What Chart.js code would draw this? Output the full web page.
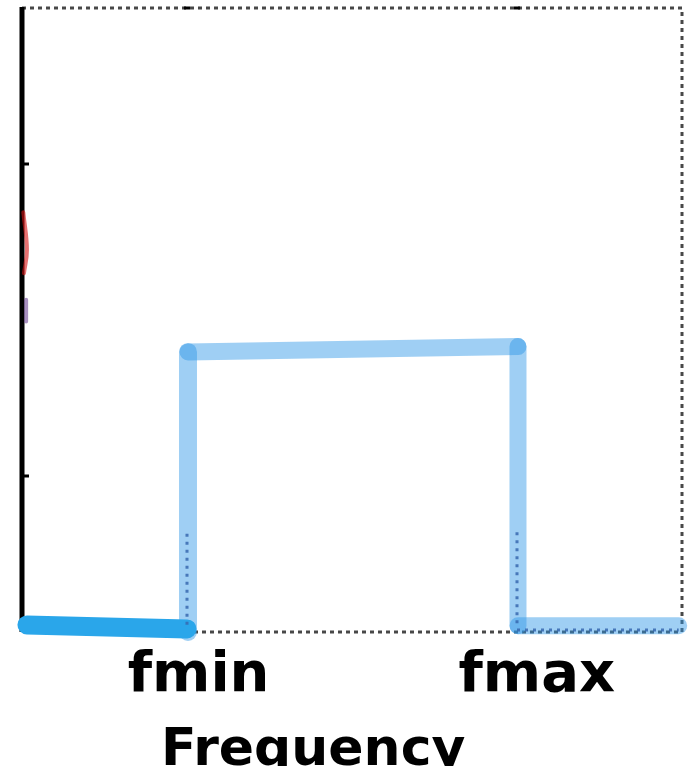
<!DOCTYPE html>
<html>
<head>
<meta charset="utf-8">
<script src="https://cdn.jsdelivr.net/npm/chart.js@4/dist/chart.umd.min.js"></script>
<style>
  body { margin: 0; background: #fff; }
  #wrap { width: 691px; height: 766px; }
</style>
</head>
<body>
<div id="wrap"><canvas id="bandChart"></canvas></div>
<script>
// Band-pass sketch: frequency axis 0..4, fmin = 1, fmax = 3
const xRange = [0, 4];
const yRange = [0, 4];
const tickPositions = [1.07, 3.12];
const tickLabels = ['fmin', 'fmax'];
const axisTickValues = [1, 3];
const axisTitle = 'Frequency';

// pass band, drawn as separate strokes
const lowStopX = [0.03, 1.0];
const lowStopY = [0.045, 0.02];
const riseX = [1.006, 1.006];
const riseY = [0.0, 1.795];
const passX = [1.006, 3.006];
const passY = [1.795, 1.83];
const fallX = [3.006, 3.006];
const fallY = [1.83, 0.04];
const highStopX = [3.006, 3.98];
const highStopY = [0.04, 0.04];

// dotted marks inside the band edges
const dotLeftX = [1.0, 1.0];
const dotLeftY = [0.63, 0.045];
const dotRightX = [3.0, 3.0];
const dotRightY = [0.64, 0.045];
const dotBottomX = [3.0, 3.98];
const dotBottomY = [0.013, 0.013];

// bits of another curve peeking at the left edge
const redX = [0.008, 0.03, 0.012];
const redY = [2.69, 2.45, 2.3];
const purpleX = [0.025, 0.025];
const purpleY = [2.13, 1.99];

function pts(xs, ys) {
    return xs.map((x, i) => ({ x: x, y: ys[i] }));
}

const lightBlue = 'rgba(45, 150, 230, 0.46)';

function seg(xs, ys, color, width, extra) {
    return Object.assign({
        data: pts(xs, ys),
        borderColor: color,
        borderWidth: width,
        borderCapStyle: 'round',
        borderJoinStyle: 'round',
        pointRadius: 0,
        tension: 0,
        fill: false,
        clip: false
    }, extra || {});
}

// frame: solid left axis, dotted top/right/bottom, small inward ticks
const framePlugin = {
    id: 'frame',
    beforeDatasetsDraw(chart) {
        const { ctx, chartArea: a, scales } = chart;
        ctx.save();
        ctx.strokeStyle = 'rgba(40,40,40,0.85)';
        ctx.lineWidth = 3;
        ctx.setLineDash([4, 4]);
        ctx.beginPath();
        ctx.moveTo(a.left, a.top);
        ctx.lineTo(a.right, a.top);
        ctx.lineTo(a.right, a.bottom);
        ctx.lineTo(a.left, a.bottom);
        ctx.stroke();
        ctx.setLineDash([]);
        ctx.strokeStyle = '#000';
        ctx.lineWidth = 5;
        ctx.beginPath();
        ctx.moveTo(a.left, a.top - 1);
        ctx.lineTo(a.left, a.bottom);
        ctx.stroke();
        ctx.lineWidth = 3;
        axisTickValues.forEach(v => {
            const y = scales.y.getPixelForValue(v);
            ctx.beginPath();
            ctx.moveTo(a.left, y);
            ctx.lineTo(a.left + 7, y);
            ctx.stroke();
            const x = scales.x.getPixelForValue(v);
            ctx.beginPath();
            ctx.moveTo(x - 3, a.top);
            ctx.lineTo(x + 3, a.top);
            ctx.stroke();
        });
        ctx.restore();
    },
    afterDraw(chart) {
        const { ctx, chartArea: a } = chart;
        ctx.save();
        ctx.fillStyle = '#000';
        ctx.font = 'bold 52px "DejaVu Sans"';
        ctx.textAlign = 'left';
        ctx.textBaseline = 'alphabetic';
        ctx.fillText(axisTitle, a.left + 139, a.bottom + 133);
        ctx.restore();
    }
};

new Chart(document.getElementById('bandChart'), {
    type: 'line',
    data: {
        datasets: [
            seg(dotLeftX, dotLeftY, 'rgba(55,105,175,0.85)', 3, { borderDash: [3, 5], borderCapStyle: 'butt' }),
            seg(dotRightX, dotRightY, 'rgba(55,105,175,0.85)', 3, { borderDash: [3, 5], borderCapStyle: 'butt' }),
            seg(dotBottomX, dotBottomY, 'rgba(55,105,175,0.85)', 3, { borderDash: [3, 5], borderCapStyle: 'butt' }),
            seg(lowStopX, lowStopY, '#2aa6ea', 19),
            seg(riseX, riseY, lightBlue, 18),
            seg(passX, passY, lightBlue, 17),
            seg(fallX, fallY, lightBlue, 17),
            seg(highStopX, highStopY, lightBlue, 17),
            seg(redX, redY, 'rgba(215,20,20,0.6)', 4, { tension: 0.4 }),
            seg(purpleX, purpleY, 'rgba(110,70,150,0.6)', 4)
        ]
    },
    options: {
        responsive: true,
        maintainAspectRatio: false,
        animation: false,
        layout: { padding: { left: 22, right: 9, top: 8, bottom: 0 } },
        plugins: { legend: { display: false }, tooltip: { enabled: false } },
        scales: {
            x: {
                type: 'linear',
                min: xRange[0],
                max: xRange[1],
                border: { display: false },
                grid: { display: false, drawTicks: false },
                afterBuildTicks: (scale) => {
                    scale.ticks = tickPositions.map(v => ({ value: v }));
                },
                afterFit: (scale) => { scale.height = 134; },
                ticks: {
                    autoSkip: false,
                    maxRotation: 0,
                    padding: 11,
                    color: '#000',
                    font: { family: 'DejaVu Sans', size: 56, weight: 'bold' },
                    callback: (value, index) => tickLabels[index]
                }
            },
            y: {
                display: false,
                min: yRange[0],
                max: yRange[1]
            }
        }
    },
    plugins: [framePlugin]
});
</script>
</body>
</html>
